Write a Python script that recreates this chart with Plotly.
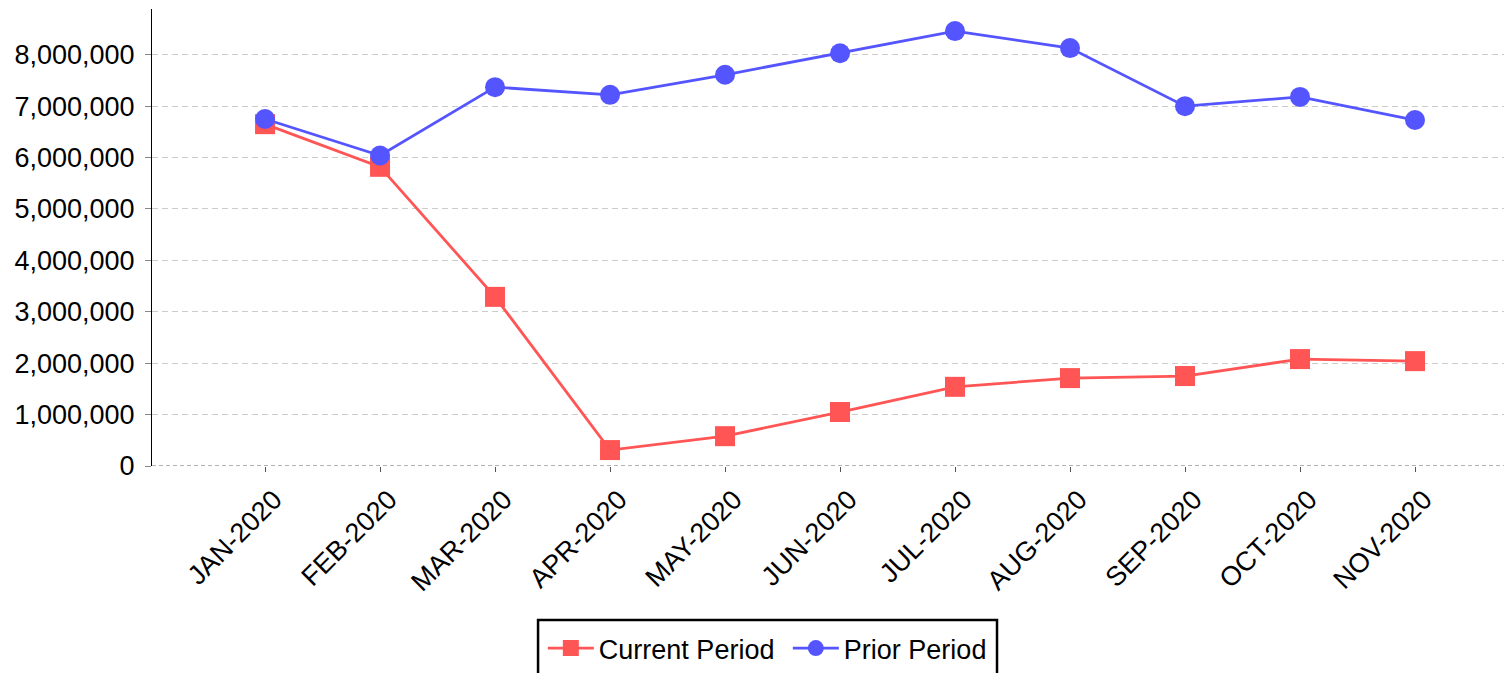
import plotly.graph_objects as go

months = ["JAN-2020", "FEB-2020", "MAR-2020", "APR-2020", "MAY-2020", "JUN-2020",
          "JUL-2020", "AUG-2020", "SEP-2020", "OCT-2020", "NOV-2020"]
current_period = [6650000, 5820000, 3290000, 310000, 580000, 1050000,
                  1540000, 1710000, 1750000, 2080000, 2040000]
prior_period = [6750000, 6040000, 7370000, 7220000, 7610000, 8030000,
                8460000, 8130000, 7000000, 7180000, 6730000]
y_ticks = [0, 1000000, 2000000, 3000000, 4000000, 5000000, 6000000, 7000000, 8000000]
y_tick_text = ["{:,}".format(v) for v in y_ticks]

RED = "#FF5555"
BLUE = "#5555FF"
FONT = "Liberation Sans, Arial, sans-serif"

fig = go.Figure()
fig.add_trace(go.Scatter(
    x=months, y=current_period, name="Current Period", mode="lines+markers",
    line=dict(color=RED, width=2.8),
    marker=dict(symbol="square", size=20, color=RED),
))
fig.add_trace(go.Scatter(
    x=months, y=prior_period, name="Prior Period", mode="lines+markers",
    line=dict(color=BLUE, width=2.8),
    marker=dict(symbol="circle", size=20, color=BLUE),
))

# dashed baseline at zero
fig.add_shape(type="line", xref="paper", yref="y", x0=0, x1=1, y0=0, y1=0,
              line=dict(color="#666666", width=1, dash="4px,3px"), layer="above")
# legend frame
fig.add_shape(type="rect", xref="paper", yref="paper",
              x0=0.2822, x1=0.6177, y0=-0.337, y1=-0.55,
              line=dict(color="#000000", width=2.5), fillcolor="rgba(0,0,0,0)")

fig.update_layout(
    width=1512, height=673,
    margin=dict(l=144, r=0, t=1, b=215),
    paper_bgcolor="white", plot_bgcolor="white",
    font=dict(family=FONT, size=27, color="#000000"),
    showlegend=True,
    legend=dict(
        orientation="h", x=0.2857, xanchor="left", y=-0.3458, yanchor="top",
        borderwidth=0, bgcolor="rgba(0,0,0,0)",
        font=dict(family=FONT, size=27, color="#000000"),
        itemwidth=46, entrywidth=184,
    ),
    xaxis=dict(
        type="category", range=[-0.983, 10.913],
        showgrid=False, zeroline=False, showline=False,
        ticks="outside", ticklen=5, tickcolor="#555555", tickwidth=1,
        ticklabelshift=9, ticklabelstandoff=1,
        tickangle=-45, tickfont=dict(family=FONT, size=27, color="#000000"),
    ),
    yaxis=dict(
        range=[0, 8890000],
        tickvals=y_ticks, ticktext=y_tick_text,
        showgrid=True, gridcolor="#cccccc", gridwidth=1, griddash="6px,4px",
        zeroline=False, showline=True, linecolor="#000000", linewidth=1,
        ticks="outside", ticklen=6, tickcolor="#888888", ticklabelstandoff=5,
        tickfont=dict(family=FONT, size=27, color="#000000"),
    ),
)

fig.write_html("out.html")
